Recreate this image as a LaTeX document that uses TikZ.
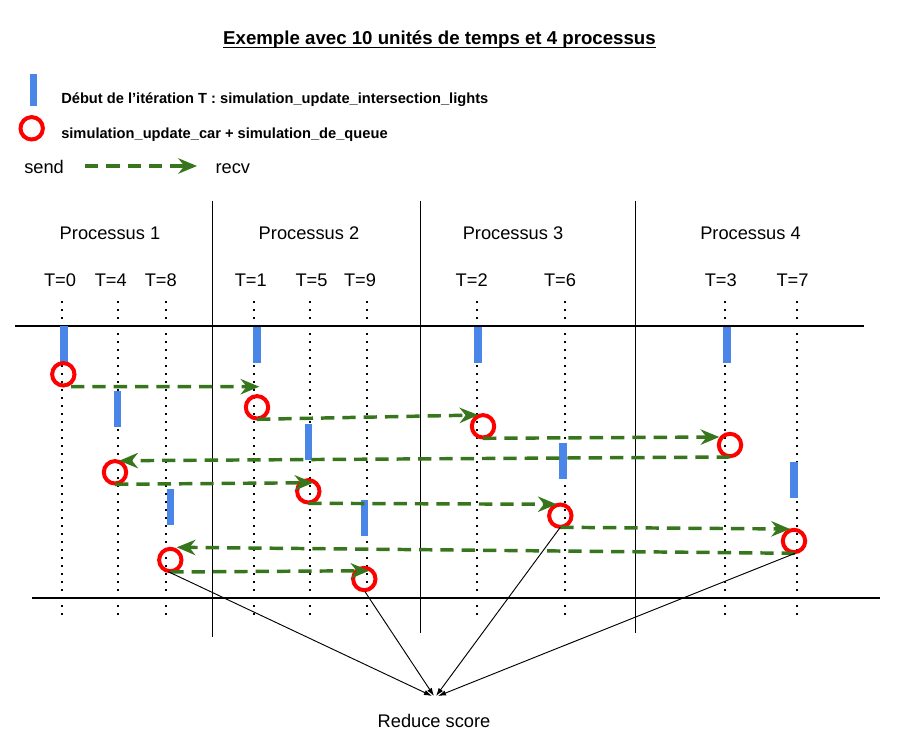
\documentclass[tikz,border=0pt]{standalone}
\usepackage{fontspec}
\setmainfont{Liberation Sans}
\usetikzlibrary{arrows.meta}
\definecolor{barblue}{HTML}{4A86E8}
\definecolor{arrgreen}{HTML}{38761D}
\definecolor{circred}{HTML}{FF0000}
\begin{document}
\begin{tikzpicture}[x=0.75pt,y=-0.75pt,
  txt/.style={font=\fontsize{13.7}{16}\selectfont, inner sep=0pt, anchor=base},
  legtxt/.style={font=\fontsize{11}{13}\selectfont\bfseries, inner sep=0pt, anchor=base west},
  bar/.style={fill=barblue, draw=none, minimum width=5.6pt, minimum height=27pt, inner sep=0pt},
  evt/.style={circle, draw=circred, line width=3pt, minimum size=16.8pt, inner sep=0pt},
  msg/.style={draw=arrgreen, line width=2.6pt, dash pattern=on 10pt off 6pt, -{Stealth[length=14pt,width=11.5pt,inset=4.5pt]}},
  redarr/.style={draw=black, line width=0.7pt, -{Latex[length=6pt,width=4pt]}},
  dotline/.style={draw=black, line width=1.4pt, dash pattern=on 1.4pt off 4.6pt},
  hline/.style={draw=black, line width=1.5pt},
  sep/.style={draw=black, line width=0.9pt}
]
\useasboundingbox (0,0) rectangle (898,734);

% title
\node[font=\fontsize{14}{17}\selectfont\bfseries, inner sep=0pt, anchor=base] (title) at (439.5,45) {Exemple avec 10 unités de temps et 4 processus};
\draw[line width=1.2pt] ([yshift=-2pt]title.base west) -- ([yshift=-2pt]title.base east);

% legend
\node[bar, minimum width=5.5pt, minimum height=24pt] (lbar) at (33.7,90) {};
\node[legtxt] (lbartxt) at (61,104) {Début de l’itération T : simulation\_update\_intersection\_lights};
\node[evt] (lcirc) at (31.7,128.3) {};
\node[legtxt] (lcirctxt) at (61,138.3) {simulation\_update\_car + simulation\_de\_queue};
\node[txt, anchor=base west] (send) at (24,173.3) {send};
\node[txt, anchor=base west] (recv) at (215.3,173.3) {recv};
\coordinate (la) at (85,166);
\coordinate (lb) at (197,166);
\draw[msg] (la) -- (lb);

% separators
\draw[sep] (212.3,201) -- (212.3,637);
\draw[sep] (420.7,201) -- (420.7,633);
\draw[sep] (635.3,201) -- (635.3,633);

% process labels
\node[txt] (p1) at (110,239) {Processus 1};
\node[txt] (p2) at (309,239) {Processus 2};
\node[txt] (p3) at (513,239) {Processus 3};
\node[txt] (p4) at (750.5,239) {Processus 4};

% T labels
\node[txt] (t0) at (60,286) {T=0};
\node[txt] (t4) at (110.8,286) {T=4};
\node[txt] (t8) at (160.8,286) {T=8};
\node[txt] (t1) at (250.8,286) {T=1};
\node[txt] (t5) at (311.5,286) {T=5};
\node[txt] (t9) at (360,286) {T=9};
\node[txt] (t2) at (471.7,286) {T=2};
\node[txt] (t6) at (560,286) {T=6};
\node[txt] (t3) at (720.8,286) {T=3};
\node[txt] (t7) at (792.5,286) {T=7};

% dotted time lines
\foreach \x in {62.3,118.3,166.3,254.3,310.3,366.7,477.3,565.3,725.3,797.3}
  \draw[dotline] (\x,301) -- (\x,615);

% horizontal lines
\draw[hline] (15,325.5) -- (864,325.5);
\draw[hline] (31.7,597.7) -- (880,597.7);

% blue bars
\node[bar] (b0) at (63.8,344.2) {};
\node[bar] (b4) at (117.5,409.3) {};
\node[bar] (b8) at (170.5,506.5) {};
\node[bar] (b1) at (257.2,344.5) {};
\node[bar] (b5) at (308.5,441.5) {};
\node[bar] (b9) at (364.5,517.5) {};
\node[bar] (b2) at (477.8,344.7) {};
\node[bar] (b6) at (562.8,460.8) {};
\node[bar] (b3) at (727.2,344.7) {};
\node[bar] (b7) at (793.8,480) {};

% red circles
\node[evt] (c0) at (63.3,374.3) {};
\node[evt] (c1) at (257,407.3) {};
\node[evt] (c2) at (483,426.3) {};
\node[evt] (c3) at (730,445) {};
\node[evt] (c4) at (115,472.3) {};
\node[evt] (c5) at (308.3,491.3) {};
\node[evt] (c6) at (560.3,515.7) {};
\node[evt] (c7) at (794,541) {};
\node[evt] (c8) at (170.3,560) {};
\node[evt] (c9) at (364.3,579) {};

% messages
\draw[msg] ([shift={(7.7,12.4)}]c0.center) -- ([shift={(2.3,-20.6)}]c1.center);
\draw[msg] ([shift={(0,12)}]c1.center) -- ([shift={(-4.7,-11.3)}]c2.center);
\draw[msg] ([shift={(0,12)}]c2.center) -- ([shift={(-10.7,-8)}]c3.center);
\draw[msg] ([shift={(0,12)}]c3.center) -- ([shift={(4.3,-11.6)}]c4.center);
\draw[msg] ([shift={(0,12)}]c4.center) -- ([shift={(5,-8.6)}]c5.center);
\draw[msg] ([shift={(0,12)}]c5.center) -- ([shift={(-3.6,-11.4)}]c6.center);
\draw[msg] ([shift={(0,11.6)}]c6.center) -- ([shift={(-4,-12)}]c7.center);
\draw[msg] ([shift={(1,12.3)}]c7.center) -- ([shift={(6.4,-12.7)}]c8.center);
\draw[msg] ([shift={(0,12)}]c8.center) -- ([shift={(5,-8.3)}]c9.center);

% reduce
\node[txt] (reduce) at (434,727) {Reduce score};
\coordinate (rtip) at (435,696);
\draw[redarr] ([shift={(-2,11.7)}]c8.center) -- ([shift={(-3,0)}]rtip);
\draw[redarr] ([shift={(0.7,12.7)}]c9.center) -- ([shift={(-1,0)}]rtip);
\draw[redarr] ([shift={(0,11.6)}]c6.center) -- ([shift={(1,0)}]rtip);
\draw[redarr] ([shift={(1,12.3)}]c7.center) -- ([shift={(3,0)}]rtip);
\end{tikzpicture}
\end{document}
